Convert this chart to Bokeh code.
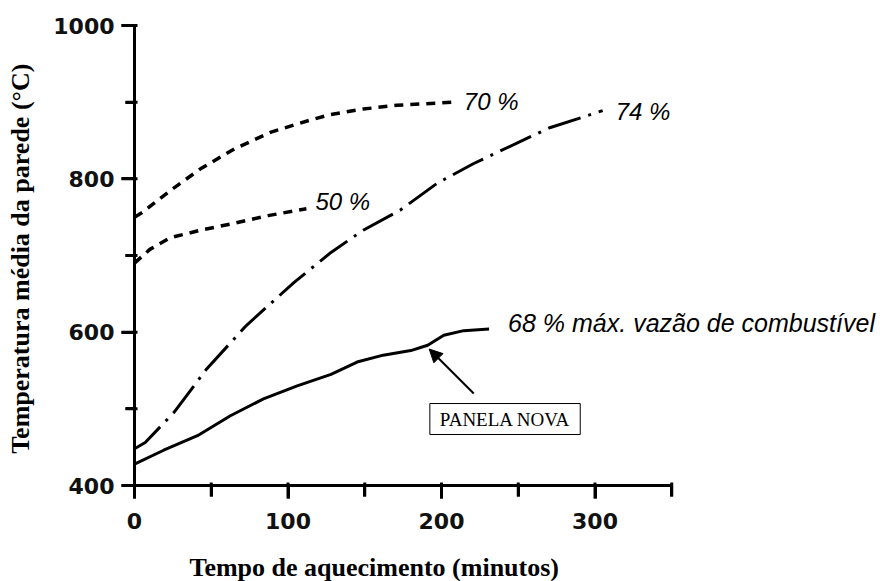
from bokeh.plotting import figure
from bokeh.models import Range1d, SingleIntervalTicker, Label, Arrow, NormalHead
from bokeh.core.properties import value
from bokeh.embed import file_html
from bokeh.resources import INLINE

# ---- data ----
time_70 = [0, 5, 23.5, 43, 65, 89, 115, 128, 149, 171, 208]
temp_70 = [750, 756, 785, 813, 839, 861, 877, 884, 891, 896, 900]

time_50 = [0, 10, 23, 43, 65, 87, 112]
temp_50 = [690, 708, 723, 733, 742, 752, 761]

time_74 = [0, 7, 26, 47, 73, 104, 128, 149, 173, 197, 221, 258, 271, 299, 305]
temp_74 = [448, 456, 496, 552, 609, 665, 704, 733, 759, 794, 820, 855, 867, 885, 889]

time_68 = [0, 19, 41, 62.5, 84, 106, 128, 145, 162, 180, 191, 201.5, 214.5, 231]
temp_68 = [428, 446, 465, 491, 513, 530, 545, 561, 570, 576, 583, 596, 602, 604]

labels = ["70 %", "50 %", "74 %"]
label_68 = "68 % máx. vazão de combustível"

x_major = [0, 100, 200, 300]
x_minor = [50, 150, 250, 350]
y_major = [400, 600, 800, 1000]
y_minor = [500, 700, 900]
x_axis_span = (0, 350)
y_axis_span = (400, 1000)

x_title = "Tempo de aquecimento  (minutos)"
y_title = "Temperatura média da parede  (°C)"
x_title_pos = (158.3, 293)
note_text = "PANELA NOVA"
note_pos = (241.4, 486.7)
arrow_tail = (221, 520)
arrow_tip = (192, 578)

# ---- geometry (pixels) ----
W, H = 880, 581
ORIGIN_X_PX, AXIS_TOP_PX, AXIS_BOTTOM_PX = 134, 25, 485
PX_PER_X = 1.535
PX_PER_Y = (AXIS_BOTTOM_PX - AXIS_TOP_PX) / (y_axis_span[1] - y_axis_span[0])
xpp, ypp = 1 / PX_PER_X, 1 / PX_PER_Y          # data units per pixel
TICK_W = 3                                      # tick thickness in px
TICK_IN = 3                                     # part of tick inside the axes, px

x_range = Range1d(x_axis_span[0] - ORIGIN_X_PX * xpp,
                  x_axis_span[0] + (W - ORIGIN_X_PX) * xpp)
y_range = Range1d(y_axis_span[0] - (H - AXIS_BOTTOM_PX) * ypp,
                  y_axis_span[1] + AXIS_TOP_PX * ypp)

p = figure(width=W, height=H, output_backend="svg", toolbar_location=None,
           x_range=x_range, y_range=y_range, min_border=0,
           min_border_left=0, min_border_right=0, min_border_top=0,
           min_border_bottom=0, background_fill_color=None,
           border_fill_color=None, outline_line_color=None)
p.grid.visible = False

p.xaxis.ticker = SingleIntervalTicker(interval=100, num_minor_ticks=2)
p.yaxis.ticker = SingleIntervalTicker(interval=200, num_minor_ticks=2)
p.xaxis.bounds = x_axis_span
p.yaxis.bounds = y_axis_span
p.xaxis.fixed_location = y_axis_span[0]
p.yaxis.fixed_location = x_axis_span[0]

for ax in (p.xaxis[0], p.yaxis[0]):
    ax.axis_line_color = "black"
    ax.axis_line_width = 3
    ax.major_tick_line_color = "black"
    ax.minor_tick_line_color = "black"
    ax.major_tick_line_width = 3
    ax.minor_tick_line_width = 3
    ax.major_tick_in = 0
    ax.minor_tick_in = 0
    ax.major_tick_out = 13
    ax.major_label_text_font = "DejaVu Sans"
    ax.major_label_text_font_style = "bold"
    ax.major_label_text_font_size = "22px"
    ax.major_label_text_color = "#111111"

p.xaxis.minor_tick_out = 11
p.yaxis.minor_tick_out = 9
p.xaxis.major_label_standoff = 14
p.yaxis.major_label_standoff = 7

p.yaxis.axis_label = y_title
p.yaxis.axis_label_text_font = "Liberation Serif"
p.yaxis.axis_label_text_font_style = "bold"
p.yaxis.axis_label_text_font_size = "26px"
p.yaxis.axis_label_text_color = "black"
p.yaxis.axis_label_standoff = 15

# ---- tick marks from the tick lists (small filled bars across the axis) ----
lefts, rights, bottoms, tops = [], [], [], []
for ticks, n in ((x_major, 13), (x_minor, 11)):
    for t in ticks:
        lefts.append(t - TICK_W / 2 * xpp); rights.append(t + TICK_W / 2 * xpp)
        tops.append(y_axis_span[0] + TICK_IN * ypp)
        bottoms.append(y_axis_span[0] - n * ypp)
for ticks, n in ((y_major, 13), (y_minor, 9)):
    for t in ticks:
        lefts.append(x_axis_span[0] - n * xpp)
        rights.append(x_axis_span[0] + TICK_IN * xpp)
        bottoms.append(t - TICK_W / 2 * ypp); tops.append(t + TICK_W / 2 * ypp)
p.quad(left=lefts, right=rights, bottom=bottoms, top=tops,
       fill_color="black", line_color=None)

# ---- x axis title ----
p.add_layout(Label(x=x_title_pos[0], y=x_title_pos[1], text=x_title,
                   text_font="Liberation Serif", text_font_style="bold",
                   text_font_size="26px", text_align="center",
                   text_baseline="middle", text_color="black"))

# ---- curves ----
p.line(time_70, temp_70, line_color="black", line_width=3.5, line_dash="9 7")
p.line(time_50, temp_50, line_color="black", line_width=3.5, line_dash="9 7")
p.line(time_74, temp_74, line_color="black", line_width=3, line_dash="34 8 3 8")
p.line(time_68, temp_68, line_color="black", line_width=3)

# ---- curve labels at series ends ----
ends_x = [time_70[-1], time_50[-1], time_74[-1]]
ends_y = [temp_70[-1], temp_50[-1], temp_74[-1]]
p.text(x=ends_x, y=ends_y, text=labels, x_offset=[10, 9, 13], y_offset=[-1, -7, 1],
       text_font=value("Liberation Sans"), text_font_style="italic",
       text_font_size="24px", text_baseline="middle", text_align="left",
       text_color="black")
p.text(x=[time_68[-1]], y=[temp_68[-1]], text=[label_68], x_offset=19, y_offset=-6,
       text_font=value("Liberation Sans"), text_font_style="italic",
       text_font_size="25px", text_baseline="middle", text_align="left",
       text_color="black")

# ---- note box with arrow ----
p.add_layout(Arrow(end=NormalHead(size=13, fill_color="black", line_color="black"),
                   x_start=arrow_tail[0], y_start=arrow_tail[1],
                   x_end=arrow_tip[0], y_end=arrow_tip[1],
                   line_color="black", line_width=2))
p.add_layout(Label(x=note_pos[0], y=note_pos[1], text=note_text,
                   text_font="Liberation Serif", text_font_size="19px",
                   text_align="center", text_baseline="middle", text_color="black",
                   border_line_color="black", border_line_width=1,
                   background_fill_color="white", padding=(10, 5)))

open("out.html", "w").write(file_html(p, INLINE))
